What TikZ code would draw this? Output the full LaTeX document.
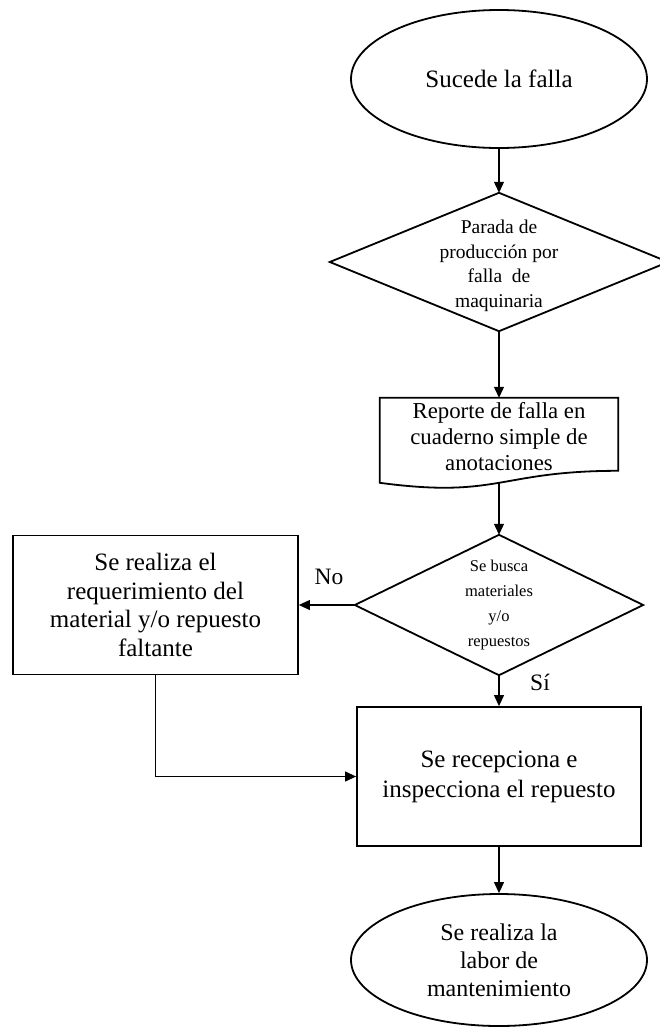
\documentclass[tikz,border=0pt]{standalone}
\usepackage{fontspec}
\setmainfont{Liberation Serif}
\usetikzlibrary{shapes.geometric,arrows.meta,calc}
\begin{document}
\begin{tikzpicture}[x=1pt,y=-1pt,
  shapeline/.style={draw=black, line width=1.8pt, line join=miter},
  terminal/.style={shapeline, ellipse, inner sep=0pt, minimum width=296pt, minimum height=138pt, align=center},
  frame/.style={inner sep=0pt, align=center},
  procbox/.style={shapeline, rectangle, inner sep=0pt, minimum width=285pt, minimum height=139pt, align=center},
  flow/.style={draw=black, line width=1.1pt, -{Triangle[length=11pt,width=10pt]}},
  lbl/.style={inner sep=0pt, font=\fontsize{23.5}{26}\selectfont}]
\useasboundingbox (0,0) rectangle (660,1028);

% start terminal
\node[terminal, font=\fontsize{25}{28}\selectfont] (e1) at (499,79) {Sucede la falla};

% decision: production stop
\node[frame, minimum width=338pt, minimum height=138pt] (d1) at (499,262) {};
\draw[shapeline] (d1.north) -- (d1.east) -- (d1.south) -- (d1.west) -- cycle;
\node[frame, font=\fontsize{19.5}{24.5}\selectfont] (d1txt) at (499,266)
  {Parada de\\producción por\\falla\ \ de\\maquinaria};

% document shape: notebook report
\node[frame, minimum width=238pt, minimum height=91pt] (doc) at (499,443.5) {};
\draw[shapeline] (doc.north west) -- (doc.north east) -- ($(doc.north east)+(0,73)$)
  .. controls ($(doc.north)+(0,73)$) and ($(doc.north)+(0,101)$) .. ($(doc.north west)+(0,85)$) -- cycle;
\node[frame, font=\fontsize{22.8}{26}\selectfont] (doctxt) at (499,437)
  {Reporte de falla en\\cuaderno simple de\\anotaciones};
\coordinate (docb) at ($(doc.north)+(0,85)$);

% decision: materials available
\node[frame, minimum width=288pt, minimum height=140pt, font=\fontsize{16.5}{25}\selectfont] (d2) at (499,605)
  {Se busca\\materiales\\y/o\\repuestos};
\draw[shapeline] (d2.north) -- (d2.east) -- (d2.south) -- (d2.west) -- cycle;

% process boxes
\node[procbox, font=\fontsize{25}{28.5}\selectfont] (b1) at (155.5,605)
  {Se realiza el\\requerimiento del\\material y/o repuesto\\faltante};
\node[procbox, minimum width=284pt, font=\fontsize{25}{30}\selectfont] (b2) at (499,776.5)
  {Se recepciona e\\inspecciona el repuesto};

% end terminal
\node[terminal, minimum height=132pt, font=\fontsize{24}{28}\selectfont] (e2) at (499,960)
  {Se realiza la\\labor de\\mantenimiento};

% connectors
\draw[flow] (e1.south) -- (d1.north);
\draw[flow] (d1.south) -- (doc.north);
\draw[flow] (docb) -- (d2.north);
\draw[flow] (d2.west) -- (b1.east);
\draw[flow] (d2.south) -- (b2.north);
\draw[flow] (b1.south) |- (b2.west);
\draw[flow] (b2.south) -- (e2.north);

% branch labels
\node[lbl] (no) at (329,577) {No};
\node[lbl] (si) at (540,682) {Sí};
\end{tikzpicture}
\end{document}
